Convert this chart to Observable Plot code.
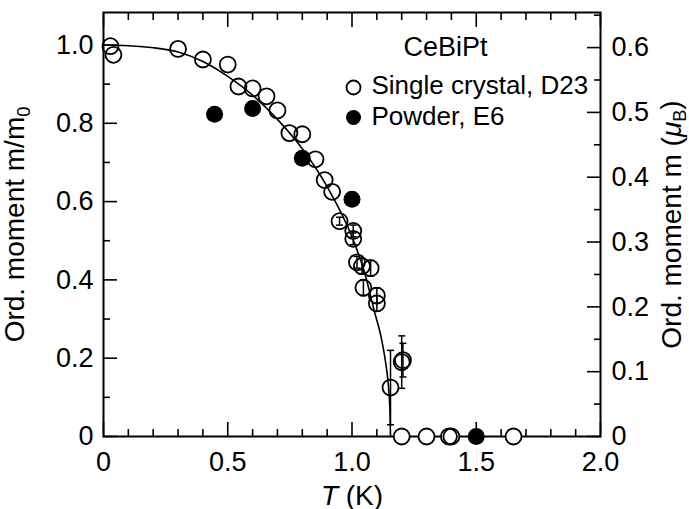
<!DOCTYPE html>
<html><head><meta charset="utf-8">
<script src="https://cdn.jsdelivr.net/npm/d3@7"></script>
<script src="https://cdn.jsdelivr.net/npm/@observablehq/plot@0.6"></script>
<style>body{margin:0;background:#fff} svg{font-family:"Liberation Sans",Arial,sans-serif}</style>
</head><body><div id="chart"></div>
<script>
// Single crystal, D23 (open circles)
const singleT = [0.028, 0.04, 0.30, 0.40, 0.50, 0.543, 0.60, 0.656, 0.70, 0.748, 0.80, 0.853, 0.89, 0.92, 0.95, 1.005, 1.005, 1.02, 1.04, 1.075, 1.046, 1.10, 1.10, 1.155, 1.20, 1.205, 1.20, 1.30, 1.39, 1.40, 1.65];
const singleM = [0.997, 0.975, 0.99, 0.963, 0.95, 0.894, 0.889, 0.869, 0.833, 0.775, 0.772, 0.708, 0.655, 0.625, 0.55, 0.525, 0.505, 0.445, 0.435, 0.43, 0.38, 0.36, 0.34, 0.125, 0.19, 0.195, 0, 0, 0, 0, 0];
const singleErr = [0, 0, 0, 0, 0, 0, 0, 0, 0, 0, 0, 0, 0, 0, 0.01, 0.015, 0.015, 0.015, 0.02, 0.02, 0.02, 0.02, 0.02, 0.095, 0.067, 0.043, 0, 0, 0, 0, 0];
// Powder, E6 (filled circles)
const powderT = [0.447, 0.60, 0.80, 1.00, 1.50];
const powderM = [0.823, 0.838, 0.711, 0.606, 0];
// fitted curve
const curveT = [0, 0.1, 0.2, 0.3, 0.4, 0.5, 0.6, 0.7, 0.8, 0.9, 1.0, 1.05, 1.09, 1.12, 1.135, 1.145, 1.150, 1.153, 1.155];
const curveM = [1.0, 0.998, 0.993, 0.982, 0.958, 0.92, 0.872, 0.81, 0.735, 0.638, 0.51, 0.42, 0.32, 0.245, 0.19, 0.14, 0.10, 0.06, 0.0];
// axis ticks
const xMajor = [0, 0.5, 1.0, 1.5, 2.0];
const xMinor = [0.1, 0.2, 0.3, 0.4, 0.6, 0.7, 0.8, 0.9, 1.1, 1.2, 1.3, 1.4, 1.6, 1.7, 1.8, 1.9];
const yMajor = [0, 0.2, 0.4, 0.6, 0.8, 1.0];
const yMinor = [0.1, 0.3, 0.5, 0.7, 0.9];
const m0 = 0.604; // μB per unit of m/m0
const rightMajor = [0, 0.1, 0.2, 0.3, 0.4, 0.5, 0.6];
const rightMinor = [0.05, 0.15, 0.25, 0.35, 0.45, 0.55, 0.65];

const single = singleT.map((T, i) => ({T, m: singleM[i], e: singleErr[i]}));
const powder = powderT.map((T, i) => ({T, m: powderM[i]}));
const curve = curveT.map((T, i) => ({T, m: curveM[i]}));
const errs = single.filter(d => d.e > 0);

const cap = {draw(ctx, size) { const w = Math.sqrt(size / Math.PI); ctx.moveTo(-w, 0); ctx.lineTo(w, 0); }};
const fmt = d => d === 0 ? "0" : d.toFixed(1);
const FS = 27;   // tick labels
const TS = 28;   // axis titles
const LS = 26;   // legend

const chart = Plot.plot({
  width: 689, height: 509,
  marginLeft: 103, marginRight: 89, marginTop: 12, marginBottom: 73,
  style: {fontFamily: "Liberation Sans, Arial, sans-serif", background: "white", color: "black"},
  x: {domain: [0, 2.0]},
  y: {domain: [0, 1.083]},
  marks: [
    // ticks (inward)
    Plot.axisX(xMajor, {anchor: "bottom", tickSize: -14, text: null, label: null, strokeWidth: 1.6}),
    Plot.axisX(xMinor, {anchor: "bottom", tickSize: -7, text: null, label: null, strokeWidth: 1.6}),
    Plot.axisX(xMajor, {anchor: "top", tickSize: -14, text: null, label: null, strokeWidth: 1.6}),
    Plot.axisX(xMinor, {anchor: "top", tickSize: -7, text: null, label: null, strokeWidth: 1.6}),
    Plot.axisY(yMajor, {anchor: "left", tickSize: -14, text: null, label: null, strokeWidth: 1.6}),
    Plot.axisY(yMinor, {anchor: "left", tickSize: -7, text: null, label: null, strokeWidth: 1.6}),
    Plot.axisY(rightMajor.map(v => v / m0), {anchor: "right", tickSize: -14, text: null, label: null, strokeWidth: 1.6}),
    Plot.axisY(rightMinor.map(v => v / m0), {anchor: "right", tickSize: -7, text: null, label: null, strokeWidth: 1.6}),
    // labels
    Plot.axisX(xMajor, {anchor: "bottom", tickSize: 0, tickPadding: 15, tickFormat: fmt, fontSize: FS,
      label: "T (K)", labelAnchor: "center", labelOffset: 68}),
    Plot.axisY(yMajor, {anchor: "left", tickSize: 0, tickPadding: 10, tickFormat: fmt, fontSize: FS,
      label: "Ord. moment m/m0", labelAnchor: "center", labelOffset: 99}),
    Plot.axisY(rightMajor.map(v => v / m0), {anchor: "right", tickSize: 0, tickPadding: 11, fontSize: FS,
      tickFormat: d => fmt(Math.round(d * m0 * 10) / 10),
      label: "Ord. moment m (μB)", labelAnchor: "center", labelOffset: 80}),
    Plot.frame({strokeWidth: 2}),
    // error bars
    Plot.ruleX(errs, {x: "T", y1: d => d.m - d.e, y2: d => d.m + d.e, strokeWidth: 1.5}),
    Plot.dot(errs, {x: "T", y: d => d.m - d.e, symbol: cap, r: 3.5, stroke: "black", strokeWidth: 1.5}),
    Plot.dot(errs, {x: "T", y: d => d.m + d.e, symbol: cap, r: 3.5, stroke: "black", strokeWidth: 1.5}),
    // zero points hide axis line
    Plot.dot(single.filter(d => d.m === 0), {x: "T", y: "m", r: 8, fill: "white"}),
    Plot.dot(single, {x: "T", y: "m", r: 8, stroke: "black", strokeWidth: 1.8, fill: "none"}),
    Plot.dot(powder, {x: "T", y: "m", r: 8.5, fill: "black"}),
    Plot.line(curve, {x: "T", y: "m", curve: "monotone-x", strokeWidth: 1.6}),
    // legend
    Plot.text(["CeBiPt"], {frameAnchor: "top-left", dx: 342, dy: 35, textAnchor: "middle", lineAnchor: "middle", fontSize: 27}),
    Plot.dot([0], {frameAnchor: "top-left", dx: 250, dy: 75, r: 7, stroke: "black", strokeWidth: 1.8, fill: "none"}),
    Plot.text(["Single crystal, D23"], {frameAnchor: "top-left", dx: 268, dy: 73, textAnchor: "start", lineAnchor: "middle", fontSize: LS}),
    Plot.dot([0], {frameAnchor: "top-left", dx: 250, dy: 105, r: 7.5, fill: "black"}),
    Plot.text(["Powder, E6"], {frameAnchor: "top-left", dx: 268, dy: 104, textAnchor: "start", lineAnchor: "middle", fontSize: LS})
  ]
});

const s = d3.select(chart);
s.selectAll('g[aria-label="x-axis label"] text').each(function() {
  const t = d3.select(this); t.text(null);
  t.append("tspan").attr("font-style", "italic").text("T");
  t.append("tspan").text(" (K)");
});
s.selectAll('g[aria-label="y-axis label"] text').each(function() {
  const t = d3.select(this); const txt = t.text(); t.text(null);
  if (txt.includes("m/m0")) {
    t.append("tspan").text("Ord. moment m/m");
    t.append("tspan").attr("font-size", "0.65em").attr("dy", "0.3em").text("0");
  } else {
    t.append("tspan").text("Ord. moment m (");
    t.append("tspan").attr("font-style", "italic").text("μ");
    t.append("tspan").attr("font-size", "0.65em").attr("dy", "0.3em").text("B");
    t.append("tspan").attr("dy", "-0.2em").text(")");
  }
});
s.selectAll('g[aria-label="x-axis label"] text, g[aria-label="y-axis label"] text').attr("font-size", TS);
document.getElementById("chart").appendChild(chart);
</script>
</body></html>
